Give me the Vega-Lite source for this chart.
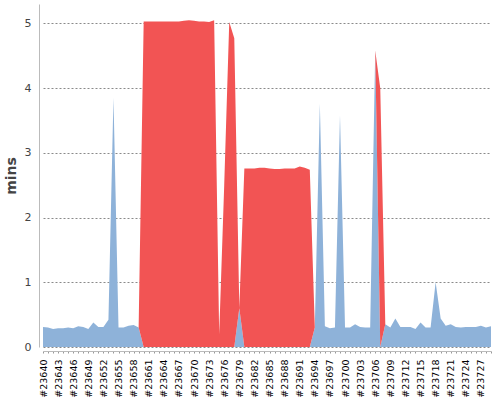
{
  "$schema": "https://vega.github.io/schema/vega-lite/v6.json",
  "width": 448,
  "height": 343,
  "autosize": {"type": "none"},
  "padding": {"left": 43, "top": 4, "right": 9, "bottom": 53},
  "config": {"view": {"stroke": null}, "font": "DejaVu Sans"},
  "data": {
    "values": [
      {"build": 23640, "result": "SUCCESS", "mins": 0.31},
      {"build": 23641, "result": "SUCCESS", "mins": 0.30},
      {"build": 23642, "result": "SUCCESS", "mins": 0.28},
      {"build": 23643, "result": "SUCCESS", "mins": 0.29},
      {"build": 23644, "result": "SUCCESS", "mins": 0.29},
      {"build": 23645, "result": "SUCCESS", "mins": 0.30},
      {"build": 23646, "result": "SUCCESS", "mins": 0.29},
      {"build": 23647, "result": "SUCCESS", "mins": 0.32},
      {"build": 23648, "result": "SUCCESS", "mins": 0.31},
      {"build": 23649, "result": "SUCCESS", "mins": 0.28},
      {"build": 23650, "result": "SUCCESS", "mins": 0.38},
      {"build": 23651, "result": "SUCCESS", "mins": 0.31},
      {"build": 23652, "result": "SUCCESS", "mins": 0.31},
      {"build": 23653, "result": "SUCCESS", "mins": 0.42},
      {"build": 23654, "result": "SUCCESS", "mins": 3.85},
      {"build": 23655, "result": "SUCCESS", "mins": 0.30},
      {"build": 23656, "result": "SUCCESS", "mins": 0.30},
      {"build": 23657, "result": "SUCCESS", "mins": 0.33},
      {"build": 23658, "result": "SUCCESS", "mins": 0.34},
      {"build": 23659, "result": "SUCCESS", "mins": 0.30},
      {"build": 23660, "result": "FAILURE", "mins": 5.03},
      {"build": 23661, "result": "FAILURE", "mins": 5.03},
      {"build": 23662, "result": "FAILURE", "mins": 5.03},
      {"build": 23663, "result": "FAILURE", "mins": 5.03},
      {"build": 23664, "result": "FAILURE", "mins": 5.03},
      {"build": 23665, "result": "FAILURE", "mins": 5.03},
      {"build": 23666, "result": "FAILURE", "mins": 5.03},
      {"build": 23667, "result": "FAILURE", "mins": 5.03},
      {"build": 23668, "result": "FAILURE", "mins": 5.04},
      {"build": 23669, "result": "FAILURE", "mins": 5.05},
      {"build": 23670, "result": "FAILURE", "mins": 5.04},
      {"build": 23671, "result": "FAILURE", "mins": 5.03},
      {"build": 23672, "result": "FAILURE", "mins": 5.03},
      {"build": 23673, "result": "FAILURE", "mins": 5.02},
      {"build": 23674, "result": "FAILURE", "mins": 5.05},
      {"build": 23675, "result": "FAILURE", "mins": 0.2},
      {"build": 23676, "result": "FAILURE", "mins": 2.5},
      {"build": 23677, "result": "FAILURE", "mins": 5.02},
      {"build": 23678, "result": "FAILURE", "mins": 4.77},
      {"build": 23679, "result": "SUCCESS", "mins": 0.6},
      {"build": 23680, "result": "FAILURE", "mins": 2.76},
      {"build": 23681, "result": "FAILURE", "mins": 2.76},
      {"build": 23682, "result": "FAILURE", "mins": 2.76},
      {"build": 23683, "result": "FAILURE", "mins": 2.77},
      {"build": 23684, "result": "FAILURE", "mins": 2.77},
      {"build": 23685, "result": "FAILURE", "mins": 2.76},
      {"build": 23686, "result": "FAILURE", "mins": 2.75},
      {"build": 23687, "result": "FAILURE", "mins": 2.75},
      {"build": 23688, "result": "FAILURE", "mins": 2.76},
      {"build": 23689, "result": "FAILURE", "mins": 2.76},
      {"build": 23690, "result": "FAILURE", "mins": 2.76},
      {"build": 23691, "result": "FAILURE", "mins": 2.79},
      {"build": 23692, "result": "FAILURE", "mins": 2.77},
      {"build": 23693, "result": "FAILURE", "mins": 2.74},
      {"build": 23694, "result": "SUCCESS", "mins": 0.30},
      {"build": 23695, "result": "SUCCESS", "mins": 3.76},
      {"build": 23696, "result": "SUCCESS", "mins": 0.32},
      {"build": 23697, "result": "SUCCESS", "mins": 0.29},
      {"build": 23698, "result": "SUCCESS", "mins": 0.30},
      {"build": 23699, "result": "SUCCESS", "mins": 3.58},
      {"build": 23700, "result": "SUCCESS", "mins": 0.30},
      {"build": 23701, "result": "SUCCESS", "mins": 0.30},
      {"build": 23702, "result": "SUCCESS", "mins": 0.35},
      {"build": 23703, "result": "SUCCESS", "mins": 0.31},
      {"build": 23704, "result": "SUCCESS", "mins": 0.30},
      {"build": 23705, "result": "SUCCESS", "mins": 0.30},
      {"build": 23706, "result": "SUCCESS", "mins": 4.58},
      {"build": 23707, "result": "FAILURE", "mins": 4.0},
      {"build": 23708, "result": "SUCCESS", "mins": 0.35},
      {"build": 23709, "result": "SUCCESS", "mins": 0.30},
      {"build": 23710, "result": "SUCCESS", "mins": 0.44},
      {"build": 23711, "result": "SUCCESS", "mins": 0.31},
      {"build": 23712, "result": "SUCCESS", "mins": 0.31},
      {"build": 23713, "result": "SUCCESS", "mins": 0.31},
      {"build": 23714, "result": "SUCCESS", "mins": 0.28},
      {"build": 23715, "result": "SUCCESS", "mins": 0.38},
      {"build": 23716, "result": "SUCCESS", "mins": 0.30},
      {"build": 23717, "result": "SUCCESS", "mins": 0.30},
      {"build": 23718, "result": "SUCCESS", "mins": 1.00},
      {"build": 23719, "result": "SUCCESS", "mins": 0.44},
      {"build": 23720, "result": "SUCCESS", "mins": 0.33},
      {"build": 23721, "result": "SUCCESS", "mins": 0.35},
      {"build": 23722, "result": "SUCCESS", "mins": 0.31},
      {"build": 23723, "result": "SUCCESS", "mins": 0.30},
      {"build": 23724, "result": "SUCCESS", "mins": 0.31},
      {"build": 23725, "result": "SUCCESS", "mins": 0.31},
      {"build": 23726, "result": "SUCCESS", "mins": 0.31},
      {"build": 23727, "result": "SUCCESS", "mins": 0.33},
      {"build": 23728, "result": "SUCCESS", "mins": 0.30},
      {"build": 23729, "result": "SUCCESS", "mins": 0.32}
    ]
  },
  "mark": {"type": "area", "interpolate": "linear"},
  "encoding": {
    "x": {
      "field": "build",
      "type": "ordinal",
      "scale": {"type": "point", "padding": 0},
      "axis": {
        "title": null,
        "offset": 4,
        "domainColor": "#bbbbbb",
        "tickColor": "#999999",
        "tickSize": 2,
        "labelAngle": -90,
        "labelFontSize": 9.5,
        "labelColor": "#000000",
        "labelPadding": 6,
        "labelOverlap": false,
        "labelBound": false,
        "labelExpr": "(datum.value - 23640) % 3 == 0 ? '#' + datum.value : ''"
      }
    },
    "y": {
      "field": "mins",
      "type": "quantitative",
      "stack": "zero",
      "impute": {"value": 0},
      "scale": {"domain": [0, 5.3], "nice": false},
      "axis": {
        "title": "mins",
        "values": [0, 1, 2, 3, 4, 5],
        "offset": 4,
        "grid": true,
        "gridDash": [2, 2],
        "gridColor": "#8a8a8a",
        "domainColor": "#bbbbbb",
        "ticks": false,
        "labelPadding": 8,
        "labelFontSize": 11,
        "labelColor": "#444444",
        "titleFontSize": 14,
        "titleFontWeight": "bold",
        "titleColor": "#444444",
        "titlePadding": 6
      }
    },
    "color": {
      "field": "result",
      "type": "nominal",
      "legend": null,
      "scale": {"domain": ["SUCCESS", "FAILURE"], "range": ["#8EB2D9", "#F25454"]}
    },
    "order": {"field": "result", "sort": "descending"}
  }
}
